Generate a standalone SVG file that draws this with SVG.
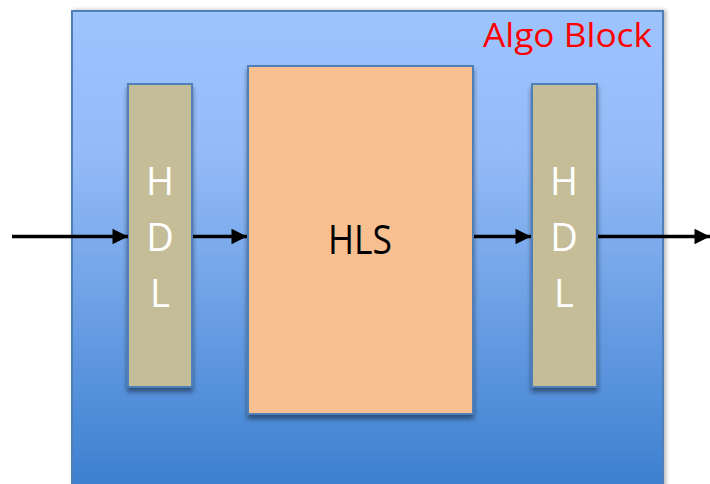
<svg xmlns="http://www.w3.org/2000/svg" width="710" height="484" viewBox="0 0 710 484">
  <defs>
    <linearGradient id="algoFill" x1="0" y1="0" x2="0" y2="1">
      <stop offset="0" stop-color="#9ec4fe"/>
      <stop offset="0.3" stop-color="#94bbf7"/>
      <stop offset="1" stop-color="#3b7fcf"/>
    </linearGradient>
    <filter id="shadow" x="-20%" y="-10%" width="140%" height="130%">
      <feGaussianBlur in="SourceAlpha" stdDeviation="2.5"/>
      <feOffset dx="0" dy="4" result="blur"/>
      <feComponentTransfer><feFuncA type="linear" slope="0.45"/></feComponentTransfer>
      <feMerge><feMergeNode/><feMergeNode in="SourceGraphic"/></feMerge>
    </filter>
    <filter id="edgeShadow" x="-5%" y="-5%" width="110%" height="110%">
      <feGaussianBlur in="SourceAlpha" stdDeviation="2"/>
      <feOffset dx="2" dy="0"/>
      <feComponentTransfer><feFuncA type="linear" slope="0.3"/></feComponentTransfer>
      <feMerge><feMergeNode/><feMergeNode in="SourceGraphic"/></feMerge>
    </filter>
    <marker id="arrow" viewBox="0 0 10 10" refX="10" refY="5" markerWidth="4.9" markerHeight="4.3" orient="auto" markerUnits="strokeWidth">
      <path d="M0,0 L10,5 L0,10 z" fill="#000"/>
    </marker>
  </defs>
  <style>
    .box { stroke: #4f7fb8; stroke-width: 2; }
    .hdl { fill: #c4bd97; }
    .hls { fill: #f8c090; }
    .wire { stroke: #000; stroke-width: 3.6; fill: none; marker-end: url(#arrow); }
    .hdlText { font-family: "Open Sans", "Noto Sans", sans-serif; font-size: 38px; fill: #fff; text-anchor: middle; }
  </style>

  <g id="algo-block">
    <rect x="72" y="11" width="591" height="480" fill="url(#algoFill)" class="box" filter="url(#edgeShadow)"/>
    <text x="483" y="47" font-family="Open Sans, Noto Sans, sans-serif" font-size="33" fill="#ff0000" textLength="169" lengthAdjust="spacingAndGlyphs">Algo Block</text>
  </g>

  <g id="hdl-in">
    <rect x="128" y="84" width="64" height="303" class="box hdl" filter="url(#shadow)"/>
    <text x="160" y="195" class="hdlText">H</text>
    <text x="160" y="251" class="hdlText">D</text>
    <text x="160" y="307" class="hdlText">L</text>
  </g>

  <g id="hls">
    <rect x="248" y="66" width="225" height="348" class="box hls" filter="url(#shadow)"/>
    <text x="360" y="254" font-family="Open Sans, Noto Sans, sans-serif" font-size="40" fill="#000" text-anchor="middle" textLength="64" lengthAdjust="spacingAndGlyphs">HLS</text>
  </g>

  <g id="hdl-out">
    <rect x="532" y="84" width="65" height="303" class="box hdl" filter="url(#shadow)"/>
    <text x="564" y="195" class="hdlText">H</text>
    <text x="564" y="251" class="hdlText">D</text>
    <text x="564" y="307" class="hdlText">L</text>
  </g>

  <g id="connectors">
    <line x1="12" y1="236.5" x2="128" y2="236.5" class="wire"/>
    <line x1="193" y1="236.5" x2="247" y2="236.5" class="wire"/>
    <line x1="474" y1="236.5" x2="531" y2="236.5" class="wire"/>
    <line x1="598" y1="236.5" x2="710" y2="236.5" class="wire"/>
  </g>
</svg>
